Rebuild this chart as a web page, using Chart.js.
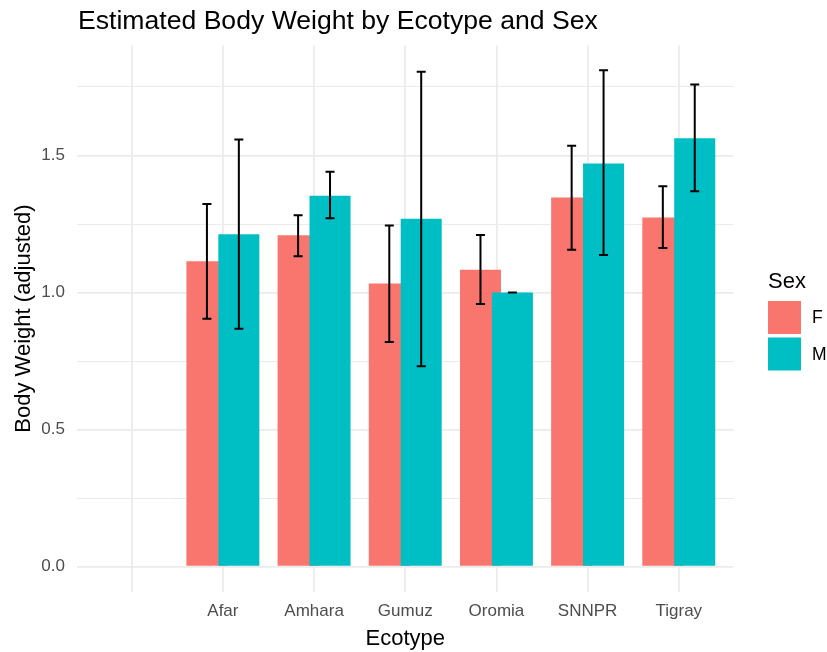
<!DOCTYPE html>
<html>
<head>
<meta charset="utf-8">
<script src="https://cdn.jsdelivr.net/npm/chart.js@4.4.1/dist/chart.umd.min.js"></script>
<style>
  html, body { margin: 0; padding: 0; background: #ffffff; overflow: hidden; }
  #wrap { width: 827px; height: 652px; position: relative; }
</style>
</head>
<body>
<div id="wrap"><canvas id="chart" width="827" height="652"></canvas></div>
<script>
// Ecotype levels (the first level is blank and has no estimates)
const ecotypes = ["", "Afar", "Amhara", "Gumuz", "Oromia", "SNNPR", "Tigray"];
const sexes = ["F", "M"];

// Estimated body weight (adjusted) with lower / upper error limits
const femaleWeight = [null, 1.114, 1.209, 1.033, 1.083, 1.347, 1.274];
const femaleLower  = [null, 0.905, 1.133, 0.820, 0.958, 1.156, 1.163];
const femaleUpper  = [null, 1.323, 1.282, 1.245, 1.210, 1.536, 1.388];

const maleWeight = [null, 1.213, 1.353, 1.269, 1.000, 1.471, 1.563];
const maleLower  = [null, 0.868, 1.271, 0.731, 1.000, 1.137, 1.370];
const maleUpper  = [null, 1.559, 1.441, 1.806, 1.000, 1.811, 1.759];

// Y axis: labelled ticks and the minor lines between them
const yMajorTicks = [0, 0.5, 1.0, 1.5];
const yMinorTicks = [0.25, 0.75, 1.25, 1.75];

const sexColors = { F: "#F8766D", M: "#00BFC4" };
const FONT = "'Liberation Sans', Arial, Helvetica, sans-serif";
const DODGE = 0.35;     // distance between the F and M bar centres (category units)
const BAR_WIDTH = 0.45; // bar width (category units); M overlaps F slightly

function buildPoints(values, lower, upper, shift) {
  const pts = [];
  values.forEach((v, i) => {
    if (v === null) return;
    pts.push({ x: i + shift, y: v, lo: lower[i], hi: upper[i] });
  });
  return pts;
}

const allUpper = femaleUpper.concat(maleUpper).filter(v => v !== null);
const dataTop = Math.max(...allUpper);

// Error bars with short caps, drawn over the bars
const errorBars = {
  id: "errorBars",
  afterDatasetsDraw(chart) {
    const { ctx } = chart;
    const y = chart.scales.y;
    ctx.save();
    ctx.strokeStyle = "#000000";
    ctx.lineWidth = 2;
    ctx.lineCap = "butt";
    chart.data.datasets.forEach((ds, di) => {
      const meta = chart.getDatasetMeta(di);
      meta.data.forEach((bar, j) => {
        const pt = ds.data[j];
        const yl = y.getPixelForValue(pt.lo);
        const yh = y.getPixelForValue(pt.hi);
        const x = bar.x;
        const cap = 4.5;
        ctx.beginPath();
        ctx.moveTo(x, yh); ctx.lineTo(x, yl);
        ctx.moveTo(x - cap, yh); ctx.lineTo(x + cap, yh);
        ctx.moveTo(x - cap, yl); ctx.lineTo(x + cap, yl);
        ctx.stroke();
      });
    });
    ctx.restore();
  }
};

// Plot title and the "Sex" key at the right of the panel
const titleAndKey = {
  id: "titleAndKey",
  afterDraw(chart) {
    const { ctx, chartArea } = chart;
    ctx.save();
    ctx.fillStyle = "#000000";
    ctx.textAlign = "left";
    ctx.textBaseline = "alphabetic";
    ctx.font = "26.6px " + FONT;
    ctx.fillText("Estimated Body Weight by Ecotype and Sex", chartArea.left + 1, 28.5);

    const kx = chartArea.right + 34.5;
    const midY = (chartArea.top + chartArea.bottom) / 2;
    const box = 33, gap = 3.5;
    const keyTop = midY - 30.5;
    ctx.font = "22px " + FONT;
    ctx.fillText("Sex", kx, keyTop);
    ctx.font = "17.5px " + FONT;
    ctx.textBaseline = "middle";
    chart.data.datasets.forEach((ds, i) => {
      const by = keyTop + 13 + i * (box + gap);
      ctx.fillStyle = ds.backgroundColor;
      ctx.fillRect(kx, by, box, box);
      ctx.fillStyle = "#000000";
      ctx.fillText(ds.label, kx + box + 11, by + box / 2 + 1);
    });
    ctx.restore();
  }
};

new Chart(document.getElementById("chart"), {
  type: "bar",
  data: {
    datasets: [
      {
        label: sexes[0],
        data: buildPoints(femaleWeight, femaleLower, femaleUpper, -DODGE / 2),
        backgroundColor: sexColors.F,
        order: 2
      },
      {
        label: sexes[1],
        data: buildPoints(maleWeight, maleLower, maleUpper, DODGE / 2),
        backgroundColor: sexColors.M,
        order: 1
      }
    ]
  },
  options: {
    responsive: false,
    animation: false,
    devicePixelRatio: 1,
    layout: { padding: { top: 45.5, right: 93.5, bottom: 0, left: 0 } },
    datasets: {
      bar: {
        grouped: false,
        categoryPercentage: 1,
        barPercentage: BAR_WIDTH / DODGE,
        borderWidth: 0
      }
    },
    plugins: {
      legend: { display: false },
      title: { display: false },
      tooltip: { enabled: false }
    },
    scales: {
      x: {
        type: "linear",
        offset: false,
        min: -0.6,
        max: ecotypes.length - 1 + 0.6,
        afterBuildTicks(scale) {
          scale.ticks = ecotypes.map((_, i) => ({ value: i }));
        },
        afterFit(scale) { scale.height = 60.5; },
        border: { display: false },
        grid: { color: "#EBEBEB", lineWidth: 1.8, drawTicks: false, offset: false },
        ticks: {
          autoSkip: false,
          maxRotation: 0,
          padding: 10,
          color: "#4D4D4D",
          font: { family: FONT, size: 17 },
          callback: (v) => ecotypes[Math.round(v)]
        },
        title: {
          display: true,
          text: "Ecotype",
          color: "#000000",
          font: { family: FONT, size: 22 },
          padding: { top: 0, bottom: 0 }
        }
      },
      y: {
        type: "linear",
        min: -0.05 * dataTop,
        max: 1.05 * dataTop,
        afterBuildTicks(scale) {
          scale.ticks = yMajorTicks.concat(yMinorTicks).sort((a, b) => a - b).map(v => ({ value: v }));
        },
        afterFit(scale) { scale.width = 77; },
        border: { display: false },
        grid: {
          color: "#EBEBEB",
          drawTicks: false,
          lineWidth: (ctx) => (yMajorTicks.includes(ctx.tick.value) ? 1.8 : 1.1)
        },
        ticks: {
          autoSkip: false,
          padding: 12,
          color: "#4D4D4D",
          font: { family: FONT, size: 17 },
          callback: (v) => (yMajorTicks.includes(v) ? v.toFixed(1) : "")
        },
        title: {
          display: true,
          text: "Body Weight (adjusted)",
          color: "#000000",
          font: { family: FONT, size: 22 },
          padding: { top: 11, bottom: 0 }
        }
      }
    }
  },
  plugins: [errorBars, titleAndKey]
});
</script>
</body>
</html>
